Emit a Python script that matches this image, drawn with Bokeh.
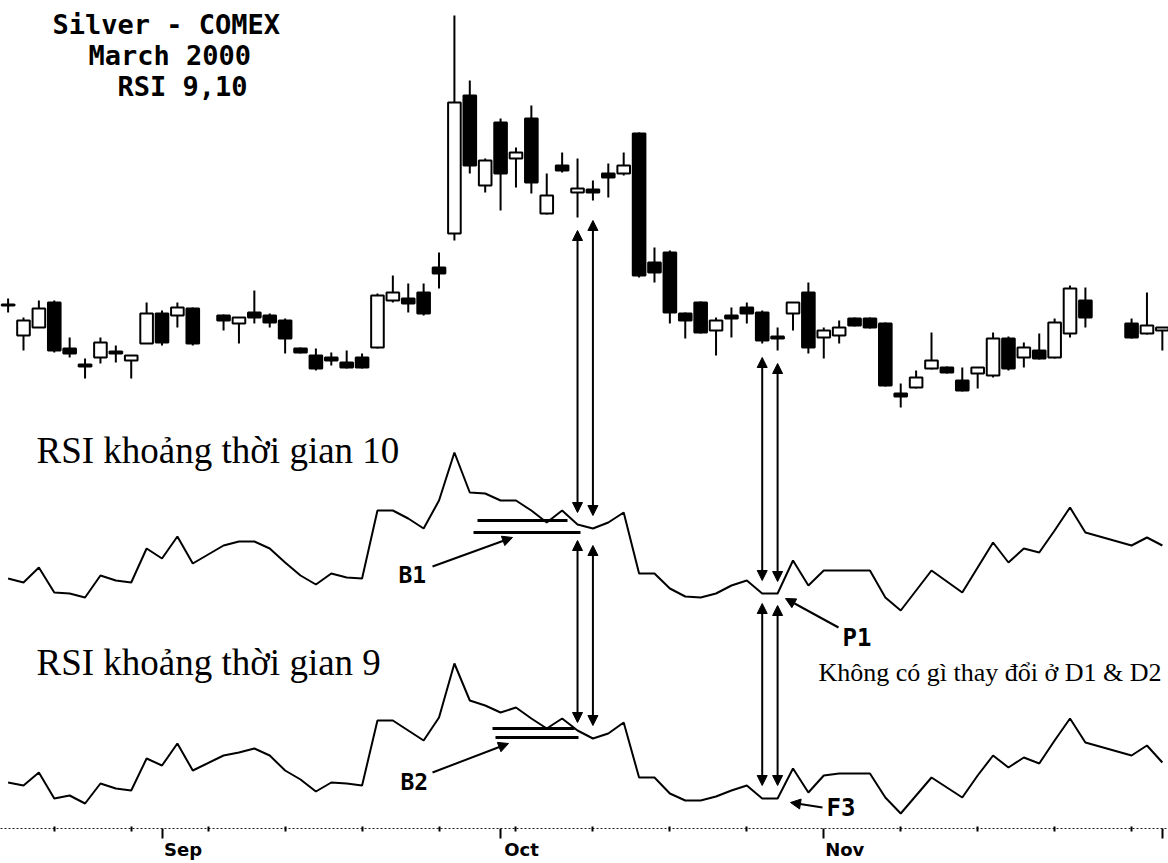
from bokeh.plotting import figure
from bokeh.models import Range1d, FixedTicker, Arrow, NormalHead, LinearAxis
from bokeh.core.properties import value
from bokeh.embed import file_html
from bokeh.resources import INLINE

# ---- data: weekday slots (Sep 1 = 10, Oct 1 = 32, Nov 1 = 53); 13, 71, 72 are holidays ----
days = list(range(0, 13)) + list(range(14, 71)) + [73, 74, 75]

opens = [523.75, 516.25, 518.25, 524.5, 513, 509, 510.75, 512.25, 510, 514.25, 521.75, 521.25, 523,
         521.25, 519.25, 522, 521.25, 520, 513, 511.25, 510.75, 509.5, 510.75, 513.25, 525, 525.5, 527,
         533.25, 541.75, 576.25, 553.75, 569.5, 560.5, 570.5, 546.75, 558.75, 552, 552.75, 556.75, 556.75,
         566.75, 534.5, 537, 521.75, 524.5, 517.5, 521.25, 523.25, 522, 516, 521.75, 527, 515.75, 516.25,
         520.5, 520.5, 519.25, 501.75, 503.25, 508, 508.25, 505, 506.75, 506.25, 515.5, 510.75, 512.5,
         510.75, 516.75, 525, 519.25, 516.75, 517.5]
highs = [525.5, 520.75, 525, 525, 515.75, 510.5, 515.75, 513.75, 511.25, 524.5, 522.5, 524.5, 523.25,
         521.5, 520.75, 527.5, 521.75, 520.5, 513.25, 513, 512, 512.5, 511.75, 526.75, 531.25, 529.25, 529.25,
         537, 596.25, 580, 560.5, 570.5, 563.25, 573.75, 556.75, 562, 560.5, 555, 559.25, 562,
         567, 538.25, 537.5, 522, 524.75, 520.75, 523.25, 524.5, 522.5, 518.25, 524.5, 529.5, 518.25, 520,
         520.75, 520.75, 519.5, 504.25, 507.5, 517, 508.5, 508.25, 508.25, 517, 516, 514.5, 516.75,
         520.5, 528.75, 528.25, 520.5, 527, 518.25]
lows = [522, 512.5, 518.25, 512, 510.75, 505.5, 509.25, 509.5, 505.5, 514.25, 513.75, 518.25, 513.75,
        517.5, 514.25, 519.25, 518.25, 511.75, 511.75, 507.5, 508.75, 508, 508, 513, 524.5, 522, 521.25,
        528, 540, 556.75, 552, 547.5, 553.25, 551.75, 546.5, 557, 545.75, 550, 550.75, 556.25,
        530.75, 529.5, 519.25, 515.5, 516.75, 511.25, 515.75, 519.25, 514.25, 512.5, 517.5, 511.75, 510.5,
        514.25, 518.5, 518, 503.5, 498.25, 503, 507.75, 506.75, 502.25, 503, 505.75, 507.5, 508.25,
        510.25, 510.5, 515.75, 518.25, 515.5, 516.5, 512.5]
closes = [524, 520, 523, 512.5, 511.75, 508.5, 514.5, 511.75, 511.25, 521.75, 514.5, 523.25, 514.25,
          520, 520.75, 520.75, 519.5, 515.5, 512, 508, 510, 508.25, 508.25, 526.25, 527, 524.25, 521.75,
          531.75, 574.5, 558.75, 560, 556.75, 562, 554.5, 551.25, 557.5, 553, 552, 555.75, 558.75,
          531.25, 532, 522, 520, 517, 520, 520.5, 521.75, 515, 515.5, 524.5, 513.25, 517.5, 518.25,
          518.75, 518.25, 503.75, 501, 505.75, 510, 507, 502.5, 508.25, 515.5, 508, 513.25, 510.5,
          519.5, 528, 520.75, 515.75, 518.75, 518.25]

rsi10 = [40.5, 39.5, 43.25, 37, 36.75, 35.75, 41.25, 40, 39.5, 48, 45.5, 51, 44.25,
         48.75, 49.75, 49.75, 48, 44.5, 41.25, 39, 41.75, 40.75, 40.5, 57.5, 57.5, 55.5, 53,
         60, 72, 62, 61.75, 60, 60, 57.5, 54.5, 57.5, 54, 53, 54.5, 57,
         41.75, 41.75, 38, 36, 35.75, 36.75, 38.75, 40, 36.75, 36.75, 45, 38.75, 42.5, 42.5,
         42.5, 42.5, 35.75, 32.5, 37.5, 42.5, 39.75, 37, 43.25, 49.5, 44.5, 48, 47,
         52.5, 58.25, 52, 48.75, 50.75, 48.75]
rsi9 = [42, 41.25, 44.5, 38, 38.75, 36.75, 41.75, 40.5, 40, 48, 46.25, 51.75, 45,
        48.75, 49.5, 50.5, 48.75, 45, 42.75, 39.75, 42, 41.75, 41.25, 57.5, 57.5, 55, 52.5,
        58.25, 71.75, 62.5, 61.25, 59.5, 60.75, 58, 55.5, 58, 55, 53, 54.25, 57,
        43.25, 43.25, 39.25, 37.5, 37.5, 38.5, 40, 41.25, 38, 38, 45.5, 39.5, 43.75, 44.25,
        44.25, 44.25, 38.25, 34.25, 38.75, 43.25, 40.75, 38.25, 43.75, 48.75, 45.75, 48.25, 46.75,
        52.5, 58, 52, 48.75, 51.25, 47]

month_ticks = [10, 32, 53, 75]
month_labels = ["Sep", "Oct", "Nov"]
week_ticks = [3, 8, 13, 18, 23, 28, 33, 38, 43, 48, 58, 63, 68, 73]

# ---- layout helpers (reference pixel -> data units) ----
W, H, AXIS_H = 1168, 863, 35
FRAME_H = H - AXIS_H
DX = 15.39

def X(px):
    return (px - 7.6) / DX

def Y(py):
    return 600 - py / 4.0

p = figure(width=W, height=H, output_backend="svg", toolbar_location=None,
           x_range=Range1d(X(0), X(W)), y_range=Range1d(Y(FRAME_H), Y(0)),
           y_axis_location=None, min_border=0, min_border_bottom=AXIS_H)
p.extra_y_ranges = {"rsi10": Range1d((740 - FRAME_H) / 4, 740 / 4),
                    "rsi9": Range1d((950 - FRAME_H) / 4, 950 / 4)}
LAB_SHIFT = 21 / DX
p.extra_x_ranges = {"lab": Range1d(X(0) - LAB_SHIFT, X(W) - LAB_SHIFT)}
p.xgrid.visible = False
p.ygrid.visible = False
p.outline_line_color = None
p.background_fill_color = "white"
p.border_fill_color = "white"

# tick axis (dotted line, month ticks, weekly minor ticks)
ax = p.xaxis[0]
ax.ticker = FixedTicker(ticks=month_ticks, minor_ticks=week_ticks)
ax.major_label_overrides = {t: "" for t in month_ticks}
ax.axis_line_dash = "2 2"
ax.axis_line_width = 1
ax.axis_line_color = "#222222"
ax.major_tick_out = 10
ax.major_tick_in = 0
ax.major_tick_line_width = 2
ax.minor_tick_out = 3
ax.minor_tick_in = 2
ax.minor_tick_line_width = 2
ax.major_label_standoff = 0
ax.major_label_text_font_size = "1px"

# month-name axis: labels start just right of the month ticks
lab_axis = LinearAxis(x_range_name="lab", ticker=FixedTicker(ticks=month_ticks[:3]),
                      major_label_overrides={t: l for t, l in zip(month_ticks, month_labels)},
                      axis_line_color=None, major_tick_line_color=None, minor_tick_line_color=None,
                      major_tick_out=0, major_tick_in=0, minor_tick_out=0, minor_tick_in=0,
                      major_label_standoff=0, major_label_text_font="DejaVu Sans",
                      major_label_text_font_style="bold", major_label_text_font_size="18px",
                      major_label_text_color="black")
p.add_layout(lab_axis, "below")

# ---- candles ----
up = [c >= o for o, c in zip(opens, closes)]
top = [max(o, c) for o, c in zip(opens, closes)]
bot = [min(o, c) for o, c in zip(opens, closes)]
fill = ["white" if u else "black" for u in up]
p.segment(days, highs, days, lows, line_color="black", line_width=2)
p.vbar(x=days, width=0.82, top=top, bottom=bot, fill_color=fill, line_color="black", line_width=2)

# ---- RSI lines ----
p.line(days, rsi10, y_range_name="rsi10", line_color="black", line_width=2)
p.line(days, rsi9, y_range_name="rsi9", line_color="black", line_width=2)

# ---- texts ----
def txt(px, py, s, font, size, style="normal"):
    p.text([X(px)], [Y(py)], text=[s], text_font=value(font), text_font_size=size,
           text_font_style=style, text_align="left", text_baseline="middle", text_color="black")

txt(52, 24, "Silver - COMEX", "DejaVu Sans Mono", "27px", "bold")
txt(88, 55, "March 2000", "DejaVu Sans Mono", "27px", "bold")
txt(117, 86, "RSI 9,10", "DejaVu Sans Mono", "27px", "bold")
txt(36, 450, "RSI khoảng thời gian 10", "Liberation Serif", "37px")
txt(36, 662, "RSI khoảng thời gian 9", "Liberation Serif", "37px")
txt(818, 672, "Không có gì thay đổi ở D1 & D2", "Liberation Serif", "26px")
txt(398, 574, "B1", "DejaVu Sans Mono", "23px", "bold")
txt(400, 781, "B2", "DejaVu Sans Mono", "23px", "bold")
txt(842, 637, "P1", "DejaVu Sans Mono", "24px", "bold")
txt(826, 807, "F3", "DejaVu Sans Mono", "24px", "bold")

# ---- double horizontal lines ----
p.segment([X(477), X(473)], [Y(520), Y(532)], [X(567), X(580)], [Y(520), Y(532)],
          line_color="black", line_width=3)
p.segment([X(492), X(495)], [Y(728), Y(737)], [X(574), X(578)], [Y(728), Y(737)],
          line_color="black", line_width=3)

# ---- arrows ----
def arrow(x0, y0, x1, y1, both=False):
    kw = dict(end=NormalHead(size=10, fill_color="black", line_color="black"),
              line_width=2, line_color="black")
    kw["start"] = NormalHead(size=10, fill_color="black", line_color="black") if both else None
    p.add_layout(Arrow(x_start=x0, y_start=y0, x_end=x1, y_end=y1, **kw))

# vertical double arrows at the compared days
for d, a0, a1, b0, b1 in [(37, 230, 512, 540, 722), (38, 220, 515, 545, 725),
                          (49, 357, 580, 603, 785), (50, 363, 581, 605, 785)]:
    arrow(d, Y(a0), d, Y(a1), both=True)
    arrow(d, Y(b0), d, Y(b1), both=True)

arrow(X(432), Y(566), X(512), Y(537))
arrow(X(432), Y(772), X(508), Y(743))
arrow(X(838), Y(627), X(785), Y(598))
arrow(X(822), Y(807), X(790), Y(802))

open("out.html", "w").write(file_html(p, INLINE))
